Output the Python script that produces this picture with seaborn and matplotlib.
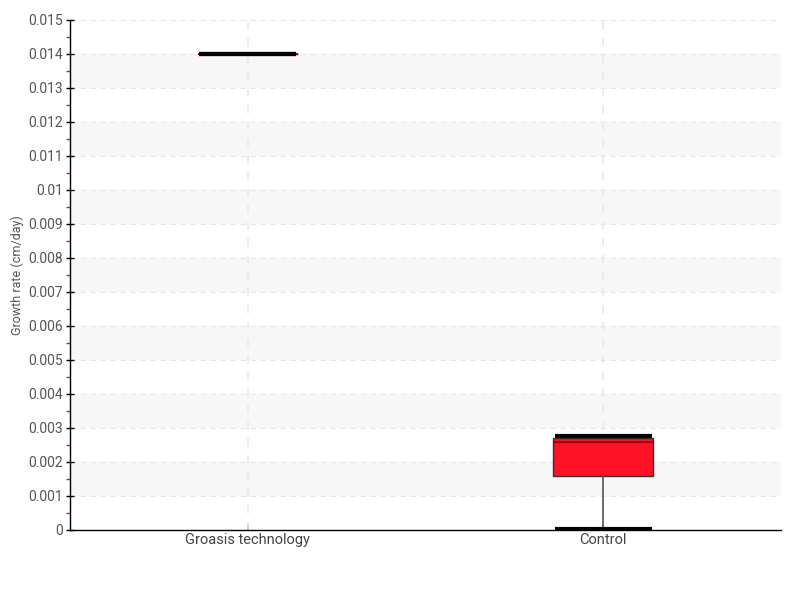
import numpy as np
import pandas as pd
import matplotlib
matplotlib.use("Agg")
import matplotlib.pyplot as plt
from matplotlib.ticker import MultipleLocator, FuncFormatter
import seaborn as sns

# values (cm/day)
groups = ["Groasis technology", "Control"]
groasis_rate = [0.014, 0.014, 0.014, 0.014, 0.014]
control_rate = [0.00004, 0.00159, 0.00259, 0.0027, 0.00277]
box_colors = ["#2ca02c", "#ff1126"]

df = pd.DataFrame({
    "group": [groups[0]] * len(groasis_rate) + [groups[1]] * len(control_rate),
    "rate": groasis_rate + control_rate,
})

sns.set_theme(style="white")
plt.rcParams["font.family"] = ["Roboto", "DejaVu Sans"]

fig = plt.figure(figsize=(8, 6), dpi=100)
ax = fig.add_axes([0.0875, 0.1167, 0.8887, 0.85])

# alternating bands
for lo in np.arange(0.001, 0.015, 0.002):
    ax.axhspan(lo, lo + 0.001, color="#f7f7f7", zorder=0, lw=0)

sns.boxplot(data=df, x="group", y="rate", hue="group", palette=box_colors,
            saturation=1, width=0.28, whis=1.5, showfliers=False,
            legend=False, ax=ax, linecolor="#333333", linewidth=1,
            medianprops=dict(color="#9a0010", lw=1.5),
            whiskerprops=dict(color="#555555", lw=1.2),
            capprops=dict(color="black", lw=3, solid_capstyle="butt"))

# caps nearly as wide as the boxes, drawn on top
for ln in ax.lines:
    if ln.get_linewidth() == 3:
        c = float(np.mean(ln.get_xdata()))
        ln.set_xdata([c - 0.137, c + 0.137])
        ln.set_zorder(5)

ax.set_ylim(0, 0.015)
ax.set_xlim(-0.5, 1.5)
ax.yaxis.set_major_locator(MultipleLocator(0.001))
ax.yaxis.set_minor_locator(MultipleLocator(0.0005))
ax.yaxis.set_major_formatter(FuncFormatter(lambda v, p: "0" if v == 0 else f"{v:.3f}".rstrip("0")))

ax.grid(True, axis="y", which="major", ls=(0, (5, 4)), color="#e6e6e6", lw=0.8)
ax.grid(True, axis="x", ls=(0, (4, 4)), color="#ececec", lw=1.5)
ax.set_axisbelow(True)

for s in ["top", "right"]:
    ax.spines[s].set_visible(False)
for s in ["left", "bottom"]:
    ax.spines[s].set_color("black")
    ax.spines[s].set_linewidth(1)

ax.tick_params(axis="y", which="major", direction="inout", length=6, width=1,
               color="black", labelsize=10, labelcolor="#555555", left=True,
               pad=2)
ax.tick_params(axis="y", which="minor", direction="out", length=3, width=1,
               color="#e01a1a", left=True)
ax.tick_params(axis="x", direction="in", length=4, color="#cccccc", pad=2,
               labelsize=10.5, labelcolor="#444444", bottom=True)

ax.set_xlabel("")
ax.set_ylabel("Growth rate (cm/day)", fontsize=9, color="#555555")
ax.yaxis.set_label_coords(-0.064, 0.5)

fig.savefig("out.png", dpi=100)
